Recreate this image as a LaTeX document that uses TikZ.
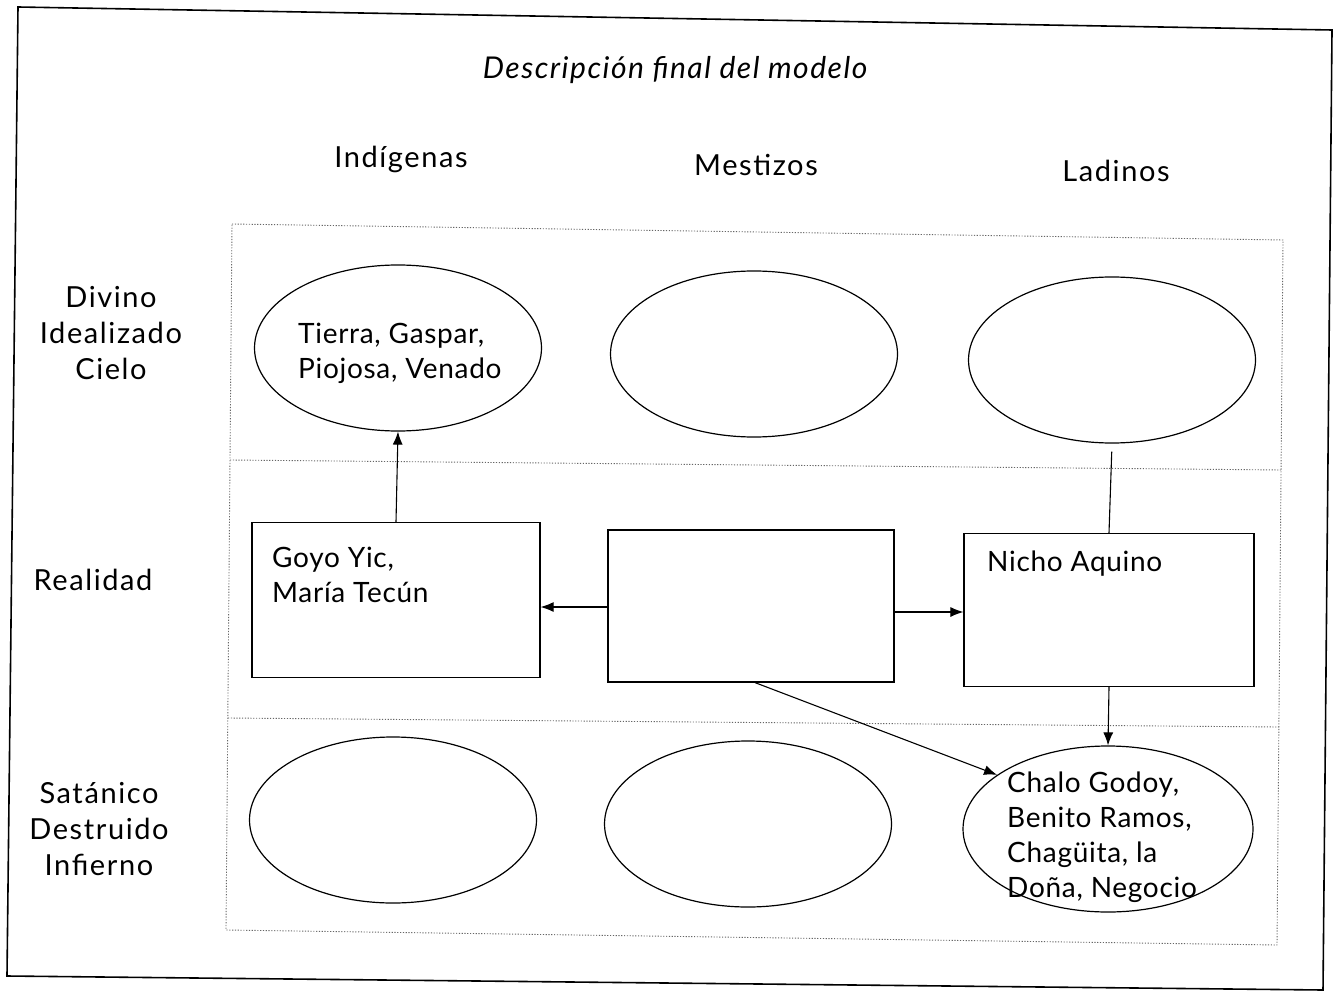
\documentclass[tikz,border=0pt]{standalone}
\usepackage{fontspec}
\setmainfont{Lato}
\usetikzlibrary{shapes.geometric,arrows.meta}

\newfontfamily\contentfont[LetterSpace=2.5]{Lato}
\newfontfamily\labelfont[LetterSpace=5.5]{Lato}
\newfontfamily\titlefont[LetterSpace=5]{Lato}

\begin{document}
\begin{tikzpicture}[x=1pt,y=-1pt,
  every node/.style={font=\contentfont\fontsize{28}{35}\selectfont},
  heading/.style={inner sep=0pt, align=center, font=\labelfont\fontsize{29}{36}\selectfont},
  frameline/.style={line width=1.6pt},
  gridline/.style={line width=0.9pt, black!60, dash pattern=on 1.2pt off 1.6pt},
  oval/.style={draw, line width=1.2pt, ellipse, inner sep=0pt,
               minimum width=287pt, minimum height=166pt},
  cell/.style={draw, line width=1.2pt, rectangle, inner sep=0pt},
  lbl/.style={inner sep=0pt, align=left, anchor=west},
  link/.style={line width=1.1pt, -{Latex[length=13pt,width=10pt]}},
  plain/.style={line width=1.1pt}
]
\useasboundingbox (0,0) rectangle (1335,992);

% outer frame
\coordinate (f1) at (18,7);
\coordinate (f2) at (1332,30);
\coordinate (f3) at (1323,990);
\coordinate (f4) at (7,976);
\draw[frameline] (f1) -- (f2) -- (f3) -- (f4) -- cycle;

% dotted grid
\coordinate (g1) at (232,224);
\coordinate (g2) at (1283,240);
\coordinate (g3) at (1277,945);
\coordinate (g4) at (226,930);
\coordinate (h1a) at (230,460);
\coordinate (h1b) at (1281,470);
\coordinate (h2a) at (228,718);
\coordinate (h2b) at (1279,727);
\draw[gridline] (g1) -- (g2) -- (g3) -- (g4) -- cycle;
\draw[gridline] (h1a) -- (h1b);
\draw[gridline] (h2a) -- (h2b);

% title and headings
\node[inner sep=0pt, font=\titlefont\fontsize{30}{36}\selectfont\itshape] (title) at (675,70) {Descripción final del modelo};
\node[heading] (colI) at (401,159) {Indígenas};
\node[heading] (colM) at (756,165) {Mestizos};
\node[heading] (colL) at (1116,171) {Ladinos};

\node[heading] (rowD) at (111,333) {Divino\\Idealizado\\Cielo};
\node[heading] (rowR) at (93,580) {Realidad};
\node[heading] (rowS) at (99,829) {Satánico\\Destruido\\Infierno};

% ovals
\node[oval] (e1) at (398,348) {};
\node[oval] (e2) at (754,354) {};
\node[oval] (e3) at (1112,360) {};
\node[oval] (e4) at (393,820) {};
\node[oval] (e5) at (748,824) {};
\node[oval, minimum width=290pt] (e6) at (1108,829) {};

% boxes
\node[cell, minimum width=288pt, minimum height=155pt] (b1) at (396,600) {};
\node[cell, minimum width=286pt, minimum height=152pt] (b2) at (751,606) {};
\node[cell, minimum width=290pt, minimum height=153pt] (b3) at (1109,610) {};

% texts
\node[lbl] (t1) at (298,353) {Tierra, Gaspar,\\Piojosa, Venado};
\node[lbl] (t2) at (272,575) {Goyo Yic,\\María Tecún};
\node[lbl] (t3) at (987,564) {Nicho Aquino};
\node[lbl] (t6) at (1007,837) {Chalo Godoy,\\Benito Ramos,\\Chagüita, la\\Doña, Negocio};

% connectors
\draw[link] (b1.north) -- (e1.south);
\draw[link] (b2.west |- 0,607) -- (b1.east |- 0,607);
\draw[link] (b2.east |- 0,612) -- (b3.west |- 0,612);
\draw[plain, shorten <=8pt] (e3.south) -- (b3.north);
\draw[link] (b3.south) -- (e6.north);
\draw[link] ([xshift=4pt]b2.south) -- (e6.154);
\end{tikzpicture}
\end{document}
